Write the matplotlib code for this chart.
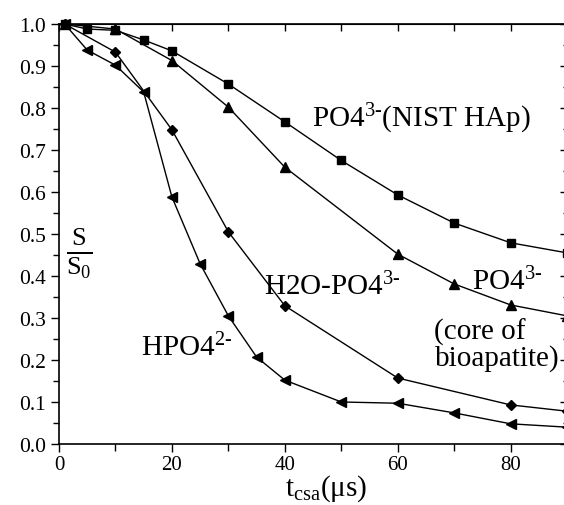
import matplotlib
matplotlib.use('Agg')
import matplotlib.pyplot as plt
from matplotlib.ticker import MultipleLocator

plt.rcParams['font.family'] = ['Liberation Serif', 'DejaVu Serif']
plt.rcParams['mathtext.fontset'] = 'custom'
plt.rcParams['mathtext.rm'] = 'Liberation Serif'
plt.rcParams['mathtext.it'] = 'Liberation Serif:italic'

# 데이터
x_nist = [1, 5, 10, 15, 20, 30, 40, 50, 60, 70, 80, 90]
y_nist = [1.0, 0.988, 0.985, 0.962, 0.936, 0.857, 0.767, 0.675, 0.593, 0.526, 0.479, 0.455]

x_core = [1, 10, 20, 30, 40, 60, 70, 80, 90]
y_core = [1.0, 0.988, 0.913, 0.802, 0.659, 0.452, 0.381, 0.331, 0.305]

x_h2o = [1, 10, 20, 30, 40, 60, 80, 90]
y_h2o = [1.0, 0.933, 0.748, 0.505, 0.329, 0.157, 0.093, 0.078]

x_hpo4 = [1, 5, 10, 15, 20, 25, 30, 35, 40, 50, 60, 70, 80, 90]
y_hpo4 = [1.0, 0.938, 0.902, 0.838, 0.588, 0.429, 0.305, 0.207, 0.152, 0.100, 0.097, 0.074, 0.048, 0.040]

fig = plt.figure(figsize=(5.64, 5.06), dpi=100)
ax = fig.add_axes([0.1046, 0.1206, 0.901, 0.83])

kw = dict(color='black', lw=1.0, clip_on=False)
ax.plot(x_nist, y_nist, marker='s', ms=6, **kw)
ax.plot(x_core, y_core, marker='^', ms=7, **kw)
ax.plot(x_h2o, y_h2o, marker='D', ms=5.5, **kw)
ax.plot(x_hpo4, y_hpo4, marker='<', ms=7, **kw)

ax.set_xlim(0, 90)
ax.set_ylim(0, 1.0)
ax.xaxis.set_major_locator(MultipleLocator(20))
ax.xaxis.set_minor_locator(MultipleLocator(10))
ax.yaxis.set_major_locator(MultipleLocator(0.1))
ax.yaxis.set_minor_locator(MultipleLocator(0.05))
ax.yaxis.set_major_formatter(plt.FormatStrFormatter('%.1f'))
ax.tick_params(which='major', direction='out', length=6, width=1, labelsize=15.5)
ax.tick_params(axis='x', which='major', pad=2, labelsize=15)
ax.tick_params(which='minor', direction='out', length=4, width=1)
ax.tick_params(axis='x', which='minor', length=5)

# 위/오른쪽 안쪽 눈금
top = ax.secondary_xaxis('top')
top.xaxis.set_major_locator(MultipleLocator(20))
top.xaxis.set_minor_locator(MultipleLocator(10))
top.tick_params(which='both', direction='in', length=5, width=1, labeltop=False)
right = ax.secondary_yaxis('right')
right.yaxis.set_major_locator(MultipleLocator(0.1))
right.yaxis.set_minor_locator(MultipleLocator(0.05))
right.tick_params(which='major', direction='in', length=5, width=1, labelright=False)
right.tick_params(which='minor', direction='in', length=3, width=1)

for s in ax.spines.values():
    s.set_linewidth(1.2)

# x축 제목 (픽셀 좌표)
fig.text(326, 506 - 496, r'$\mathrm{t_{csa}}$(μs)', fontsize=21, ha='center',
         va='baseline', transform=None)

# 라벨
fs = 21
ax.text(44.8, 0.757, r'PO4$^{\text{3-}}$(NIST HAp)', fontsize=fs)
ax.text(36.3, 0.357, r'H2O-PO4$^{\text{3-}}$', fontsize=fs)
ax.text(73.1, 0.369, r'PO4$^{\text{3-}}$', fontsize=fs)
ax.text(66.5, 0.25, '(core of', fontsize=fs)
ax.text(66.5, 0.19, 'bioapatite)', fontsize=fs)
ax.text(14.6, 0.21, r'HPO4$^{\text{2-}}$', fontsize=fs)
ax.text(1.2, 0.43, r'$\frac{\mathrm{S}}{\mathrm{S_0}}$', fontsize=27)

fig.savefig('out.png', dpi=100, facecolor='white')
